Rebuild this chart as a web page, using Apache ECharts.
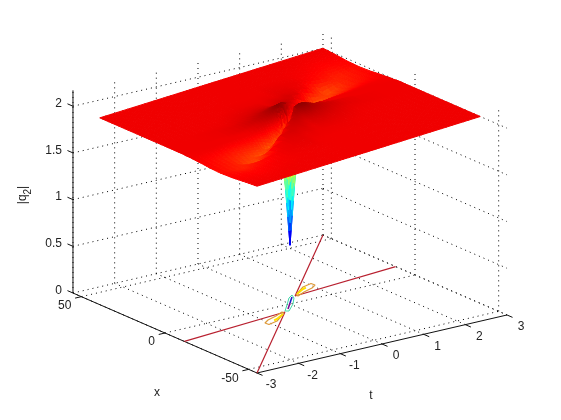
<!DOCTYPE html>
<html>
<head>
<meta charset="utf-8">
<style>html,body{margin:0;background:#fff}#main{width:561px;height:420px}</style>
<script src="https://cdn.jsdelivr.net/npm/echarts@6/dist/echarts.min.js"></script>
</head>
<body>
<div id="main"></div>
<script>
// tick values of the three axes
const tTicks = [-3, -2, -1, 0, 1, 2, 3];
const xTicks = [-50, 0, 50];
const zTicks = [0, 0.5, 1, 1.5, 2];
const zTickLabels = ['0', '0.5', '1', '1.5', '2'];

// surface sampling: rows in t, columns in the sheared coordinate s = x - shear*t
const tGrid = [-3, -2.4, -1.8, -1.3, -0.9, -0.6, -0.4, -0.25, -0.12, 0, 0.12, 0.25, 0.4, 0.6, 0.9, 1.3, 1.8, 2.4, 3];
const sGrid = [-47, -40, -32, -25, -19, -14, -10, -7, -4.5, -2.5, -1, 0, 1, 2.5, 4.5, 7, 10, 14, 19, 25, 32, 40, 47];
const shear = 2.67;

// |q2|, one row per tGrid entry
const zGrid = [
  [2,1.99,1.975,1.97,1.975,1.985,1.99,1.995,1.995,2,2,2,2,2,2,2,2,2,2,2,2,2,2],
  [2,1.99,1.97,1.93,1.94,1.95,1.975,1.995,2,2,2,2,2,2,2,2,2,2,2,2,2,2,2],
  [2,2,1.99,1.97,1.86,1.9,1.94,1.98,2,2,2,2,2.005,2.005,2.005,2.005,2,2,2,2,2,2,2],
  [2,2,2,2.005,1.99,1.84,1.92,1.97,2,2,2.01,2.02,2.02,2.02,2.02,2.01,2.005,2,2,2,2,2,2],
  [2,2,2,2.01,2.02,2.02,1.78,1.93,2,2.03,2.03,2.04,2.05,2.05,2.04,2.03,2.02,2.01,2,2,2,2,2],
  [2,2,2,2.01,2.02,2.04,2.03,1.75,1.92,2.02,2.06,2.07,2.08,2.08,2.07,2.05,2.03,2.015,2.005,2,2,2,2],
  [2,2,2,2,2.01,2.03,2.05,2.03,1.7,1.95,2.04,2.09,2.11,2.11,2.09,2.06,2.04,2.02,2.005,2,2,2,2],
  [2,2,2,2,2.01,2.03,2.05,2.07,1.95,1.5,1.5,1.9,2.13,2.14,2.11,2.07,2.04,2.02,2.005,2,2,2,2],
  [2,2,2,2,2.005,2.02,2.04,2.07,2.1,1.85,1.2,1.25,1.95,2.15,2.11,2.07,2.04,2.02,2.005,2,2,2,2],
  [2,2,2,2,2.005,2.01,2.03,2.06,2.1,2.13,1.6,0.63,1.6,2.13,2.1,2.06,2.03,2.01,2.005,2,2,2,2],
  [2,2,2,2,2.005,2.02,2.04,2.07,2.11,2.15,1.95,1.25,1.2,1.85,2.1,2.07,2.04,2.02,2.005,2,2,2,2],
  [2,2,2,2,2.005,2.02,2.04,2.07,2.11,2.14,2.13,1.9,1.5,1.5,1.95,2.07,2.05,2.03,2.01,2,2,2,2],
  [2,2,2,2,2.005,2.02,2.04,2.06,2.09,2.11,2.11,2.09,2.04,1.95,1.7,2.03,2.05,2.03,2.01,2,2,2,2],
  [2,2,2,2,2.005,2.015,2.03,2.05,2.07,2.08,2.08,2.07,2.06,2.02,1.92,1.75,2.03,2.04,2.02,2.01,2,2,2],
  [2,2,2,2,2,2.01,2.02,2.03,2.04,2.05,2.05,2.04,2.03,2.03,2,1.93,1.78,2.02,2.02,2.01,2,2,2],
  [2,2,2,2,2,2,2.005,2.01,2.02,2.02,2.02,2.02,2.01,2,2,1.97,1.92,1.84,1.99,2.005,2,2,2],
  [2,2,2,2,2,2,2,2.005,2.005,2.005,2.005,2,2,2,2,1.98,1.94,1.9,1.86,1.97,1.99,2,2],
  [2,2,2,2,2,2,2,2,2,2,2,2,2,2,2,1.995,1.975,1.95,1.94,1.93,1.97,1.99,2],
  [2,2,2,2,2,2,2,2,2,2,2,2,2,2,1.995,1.995,1.99,1.985,1.975,1.97,1.975,1.99,2]
];

// floor contours as [t, x]
const redLeft = [[-3, -11.6], [-0.366, -6.1]];
const redRight = [[0.366, 6.1], [3, 11.6]];
const redDown = [[-3, -55], [-0.366, -6.1]];
const redUp = [[0.366, 6.1], [3, 55]];
const orangeUp = [[0.418, 6.82], [0.815, 12.54], [1.067, 14], [1.076, 11.83], [0.92, 9.77], [0.651, 7.85], [0.413, 5.51], [0.418, 6.82]];
const orangeDown = [[-0.418, -6.82], [-0.815, -12.54], [-1.067, -14], [-1.076, -11.83], [-0.92, -9.77], [-0.651, -7.85], [-0.413, -5.51], [-0.418, -6.82]];
const yellowUp = [[0.47, 7.51], [0.743, 10.74], [0.84, 11.4]];
const yellowDown = [[-0.47, -7.51], [-0.743, -10.74], [-0.84, -11.4]];
const cyanLoop = [[0.355, 7.65], [0.278, 4.55], [0.047, -0.62], [-0.268, -6.07], [-0.371, -7.45], [-0.33, -5.24], [-0.083, -0.27], [0.2, 5.59], [0.355, 7.65]];
const blueCore = [[0.283, 5.86], [0.036, 0.9]];
const purpleCore = [[0.036, 0.9], [-0.211, -4.07]];

// axes box
const tLim = [-3, 3];
const xLim = [-55, 55];
const zLim = [0, 2.17];
const colorLim = [0.63, 2.17];

// projection of the default 3D view onto the page
const origin = [290, 304];
const tVec = [41.67, -9.67];
const xVec = [-1.673, -0.727];
const zVec = 93.4;
const depthVec = [29.2, 2.15, -31.3];

function project(t, x, z) {
  return [origin[0] + t * tVec[0] + x * xVec[0],
          origin[1] + t * tVec[1] + x * xVec[1] - z * zVec];
}

function jet(v) {
  const f = Math.min(1, Math.max(0, (v - colorLim[0]) / (colorLim[1] - colorLim[0])));
  const ch = (c) => Math.round(255 * Math.min(1, Math.max(0, 1.5 - Math.abs(4 * f - c))));
  return 'rgb(' + ch(3) + ',' + ch(2) + ',' + ch(1) + ')';
}

// one small polygon per sub cell so that the colour runs smoothly, painted far to near
const polys = [];
const subdiv = 4;
function corner(i, j, u, v) {
  const t = tGrid[i] + u * (tGrid[i + 1] - tGrid[i]);
  const s = sGrid[j] + v * (sGrid[j + 1] - sGrid[j]);
  const z = (1 - u) * (1 - v) * zGrid[i][j] + u * (1 - v) * zGrid[i + 1][j]
    + (1 - u) * v * zGrid[i][j + 1] + u * v * zGrid[i + 1][j + 1];
  return [t, s + shear * t, z];
}
for (let i = 0; i < tGrid.length - 1; i++) {
  for (let j = 0; j < sGrid.length - 1; j++) {
    for (let a = 0; a < subdiv; a++) {
      for (let b = 0; b < subdiv; b++) {
        const u0 = a / subdiv, u1 = (a + 1) / subdiv, v0 = b / subdiv, v1 = (b + 1) / subdiv;
        const pts = [corner(i, j, u0, v0), corner(i, j, u1, v0), corner(i, j, u1, v1), corner(i, j, u0, v1)];
        const mean = [0, 1, 2].map((k) => pts.reduce((m, p) => m + p[k], 0) / 4);
        polys.push({
          pts: pts.map((p) => project(p[0], p[1], p[2])),
          z: mean[2],
          depth: mean[0] * depthVec[0] + mean[1] * depthVec[1] + mean[2] * depthVec[2]
        });
      }
    }
  }
}
polys.sort((a, b) => b.depth - a.depth);

function line3d(points, color, width, dash) {
  return {
    type: 'line',
    data: points.map((p) => project(p[0], p[1], p[2])),
    symbol: 'none',
    silent: true,
    z: dash ? 1 : 2,
    lineStyle: {color: color, width: width, type: dash ? [1, 4] : 'solid', cap: 'butt'}
  };
}
function floorLine(points, color, width) {
  return line3d(points.map((p) => [p[0], p[1], 0]), color, width);
}

const series = [];
const dots = '#000';
// floor grid
tTicks.forEach((t) => series.push(line3d([[t, xLim[0], 0], [t, xLim[1], 0]], dots, 1, true)));
xTicks.forEach((x) => series.push(line3d([[tLim[0], x, 0], [tLim[1], x, 0]], dots, 1, true)));
// wall grids
zTicks.forEach((z) => {
  series.push(line3d([[tLim[0], xLim[1], z], [tLim[1], xLim[1], z]], dots, 1, true));
  series.push(line3d([[tLim[1], xLim[1], z], [tLim[1], xLim[0], z]], dots, 1, true));
});
tTicks.forEach((t) => series.push(line3d([[t, xLim[1], 0], [t, xLim[1], zLim[1]]], dots, 1, true)));
xTicks.forEach((x) => series.push(line3d([[tLim[1], x, 0], [tLim[1], x, zLim[1]]], dots, 1, true)));

// axes and ticks
const axisColor = '#111';
series.push(line3d([[tLim[0], xLim[1], 0], [tLim[0], xLim[1], zLim[1]]], axisColor, 1));
series.push(line3d([[tLim[0], xLim[1], 0], [tLim[0], xLim[0], 0]], axisColor, 1));
series.push(line3d([[tLim[0], xLim[0], 0], [tLim[1], xLim[0], 0]], axisColor, 1));
zTicks.forEach((z) => series.push(line3d([[tLim[0], xLim[1], z], [tLim[0], xLim[1] + 3.3, z]], axisColor, 1)));
xTicks.forEach((x) => series.push(line3d([[tLim[0], x, 0], [tLim[0] - 0.15, x, 0]], axisColor, 1)));
tTicks.forEach((t) => series.push(line3d([[t, xLim[0], 0], [t, xLim[0] - 3.3, 0]], axisColor, 1)));

// floor contours
[redLeft, redRight, redDown, redUp].forEach((c) => series.push(floorLine(c, '#b8202f', 1.2)));
[orangeUp, orangeDown].forEach((c) => series.push(floorLine(c, '#dd9a3a', 1.2)));
[yellowUp, yellowDown].forEach((c) => series.push(floorLine(c, '#ffe000', 2)));
series.push(floorLine(cyanLoop, '#40d8a8', 1));
series.push(floorLine(blueCore, '#1a20c8', 1.6));
series.push(floorLine(purpleCore, '#7a1090', 1.6));

// the surface
series.push({
  type: 'custom',
  coordinateSystem: 'cartesian2d',
  data: polys.map((p, i) => [i]),
  encode: {x: -1, y: -1},
  progressive: 0,
  silent: true,
  z: 5,
  clip: false,
  renderItem: function (params, api) {
    const p = polys[params.dataIndex];
    const c = jet(p.z);
    return {
      type: 'polygon',
      shape: {points: p.pts.map((q) => api.coord(q))},
      style: {fill: c, stroke: c, lineWidth: 1}
    };
  }
});

// tick labels and axis titles
const textColor = '#222';
const labels = [];
zTicks.forEach((z, i) => {
  const p = project(tLim[0], xLim[1], z);
  labels.push({pos: [p[0] - 11, p[1] - 2.5], text: zTickLabels[i], align: 'right'});
});
xTicks.forEach((x) => {
  const p = project(tLim[0], x, 0);
  labels.push({pos: [p[0] - 10, p[1] + 9], text: String(x), align: 'right'});
});
tTicks.forEach((t) => {
  const p = project(t, xLim[0], 0);
  labels.push({pos: [p[0] + 14, p[1] + 12], text: String(t), align: 'center'});
});
labels.push({pos: [157, 393], text: 'x', align: 'center'});
labels.push({pos: [371, 396], text: 't', align: 'center'});

series.push({
  type: 'custom',
  coordinateSystem: 'cartesian2d',
  data: labels.map((l, i) => [i]),
  encode: {x: -1, y: -1},
  silent: true,
  z: 6,
  clip: false,
  renderItem: function (params, api) {
    const l = labels[params.dataIndex];
    const c = api.coord(l.pos);
    return {
      type: 'text',
      x: c[0],
      y: c[1],
      style: {text: l.text, fill: textColor, font: '12px "Liberation Sans", Arial, sans-serif', align: l.align, verticalAlign: 'middle'}
    };
  }
});

const chart = echarts.init(document.getElementById('main'));
chart.setOption({
  animation: false,
  backgroundColor: '#fff',
  grid: {left: 0, right: 0, top: 0, bottom: 0},
  xAxis: {type: 'value', min: 0, max: 561, show: false},
  yAxis: {type: 'value', min: 0, max: 420, inverse: true, show: false},
  graphic: [{
    type: 'text',
    x: 28,
    y: 195,
    rotation: Math.PI / 2,
    style: {
      text: '{n||q}{s|2}{n||}',
      align: 'center',
      verticalAlign: 'middle',
      fill: textColor,
      rich: {
        n: {font: '12px "Liberation Sans", Arial, sans-serif', fill: textColor, lineHeight: 14, verticalAlign: 'top'},
        s: {font: '10px "Liberation Sans", Arial, sans-serif', fill: textColor, lineHeight: 22, verticalAlign: 'middle'}
      }
    }
  }],
  series: series
});
</script>
</body>
</html>
